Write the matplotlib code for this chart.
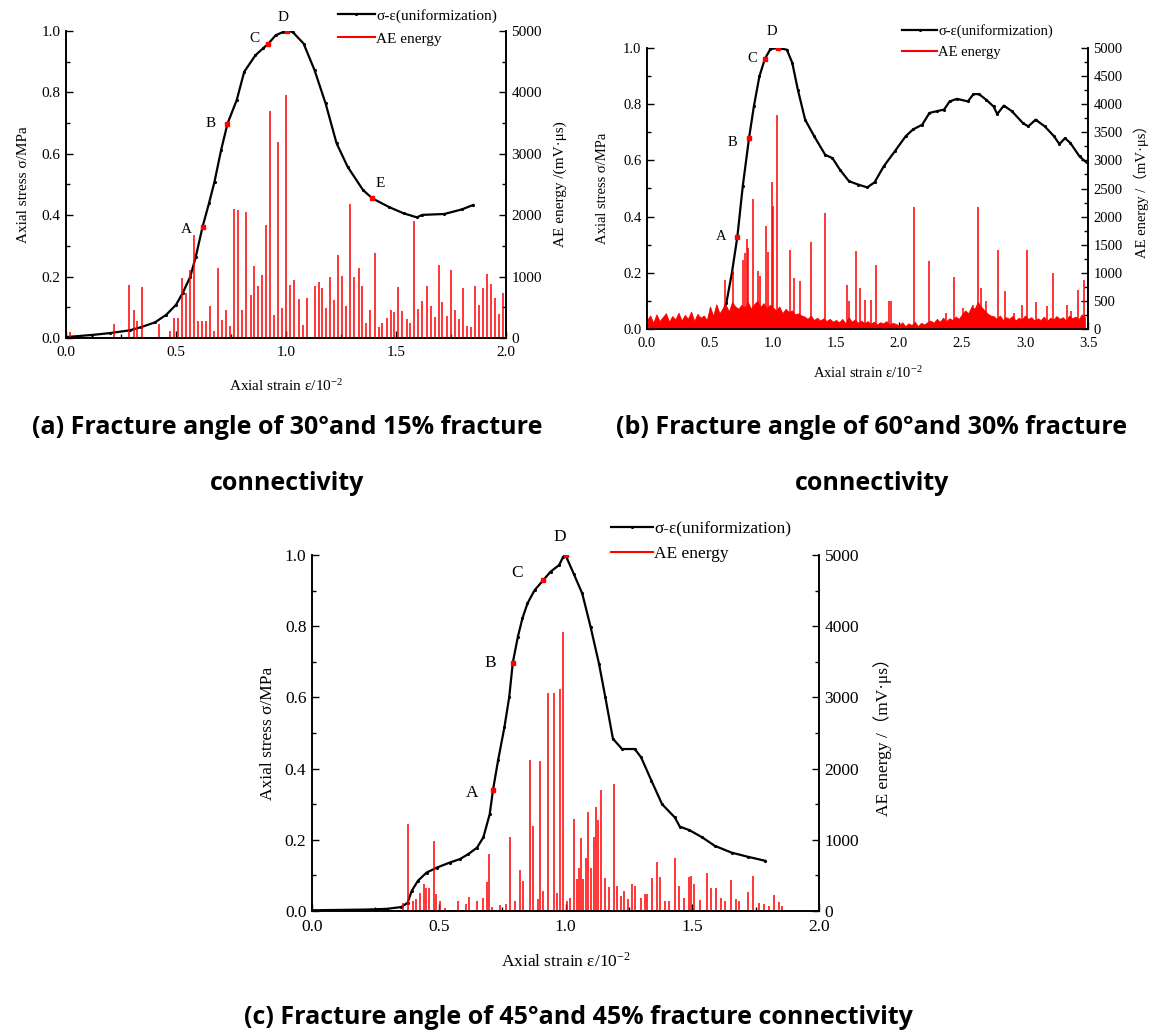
import matplotlib

matplotlib.use('Agg')
import matplotlib.pyplot as plt
from matplotlib.lines import Line2D
from matplotlib.ticker import MultipleLocator, FormatStrFormatter
import numpy as np

plt.rcParams['font.family'] = ['Liberation Serif', 'Noto Sans CJK SC']
plt.rcParams['mathtext.fontset'] = 'stix'

# ---- (a) 30 deg, 15 % ----
a_strain = [0.0, 0.12, 0.2, 0.29, 0.34, 0.405, 0.456, 0.5, 0.53, 0.565, 0.59, 0.621, 0.65,
            0.675, 0.705, 0.734, 0.776, 0.81, 0.861, 0.895, 0.92, 0.953, 0.987, 1.004, 1.03,
            1.08, 1.13, 1.18, 1.23, 1.28, 1.35, 1.392, 1.47, 1.535, 1.595, 1.62, 1.72, 1.8, 1.85]
a_stress = [0.003, 0.01, 0.016, 0.025, 0.035, 0.051, 0.076, 0.108, 0.146, 0.2, 0.265, 0.363, 0.439,
            0.509, 0.612, 0.698, 0.775, 0.867, 0.921, 0.943, 0.959, 0.986, 0.997, 1.0, 0.997,
            0.959, 0.872, 0.764, 0.634, 0.558, 0.482, 0.455, 0.426, 0.406, 0.393, 0.401, 0.404, 0.419, 0.433]
a_pt_x = [0.621, 0.734, 0.92, 1.004, 1.392]
a_pt_y = [0.363, 0.698, 0.959, 1.0, 0.455]
a_pt_lab = ["A", "B", "C", "D", "E"]
a_ae_x = [0.017, 0.216, 0.287, 0.307, 0.324, 0.344, 0.422, 0.473, 0.489, 0.510, 0.527, 0.545,
          0.562, 0.581, 0.599, 0.616, 0.636, 0.655, 0.672, 0.692, 0.709, 0.727, 0.746, 0.765,
          0.783, 0.802, 0.819, 0.839, 0.856, 0.873, 0.891, 0.908, 0.928, 0.945, 0.964, 0.982,
          0.999, 1.018, 1.036, 1.057, 1.075, 1.094, 1.131, 1.148, 1.165, 1.183, 1.202, 1.220,
          1.237, 1.254, 1.274, 1.293, 1.311, 1.330, 1.347, 1.365, 1.384, 1.403, 1.421, 1.438,
          1.457, 1.475, 1.492, 1.511, 1.529, 1.548, 1.565, 1.583, 1.602, 1.620, 1.639, 1.657,
          1.676, 1.695, 1.711, 1.730, 1.749, 1.767, 1.786, 1.804, 1.823, 1.840, 1.858, 1.877,
          1.894, 1.912, 1.931, 1.948, 1.966, 1.985]
a_ae = [100, 233, 866, 460, 270, 830, 233, 120, 325, 325, 975, 730,
        1110, 1680, 270, 270, 270, 515, 120, 1140, 300, 450, 200, 2097,
        2085, 450, 2060, 705, 1180, 840, 1030, 1836, 3695, 380, 3200, 487,
        3965, 866, 937, 634, 211, 650, 840, 904, 807, 487, 1000, 623,
        1354, 1010, 525, 2183, 990, 1140, 850, 243, 450, 1380, 180, 243,
        325, 450, 417, 830, 433, 310, 243, 1912, 470, 596, 850, 525,
        340, 1190, 590, 352, 1110, 460, 310, 812, 200, 180, 850, 540,
        812, 1050, 880, 650, 390, 740]

# ---- (b) 60 deg, 30 % ----
b_strain = [0.0, 0.2, 0.4, 0.572, 0.63, 0.674, 0.717, 0.76, 0.81, 0.848, 0.892, 0.935, 0.979,
            1.037, 1.11, 1.153, 1.197, 1.255, 1.327, 1.414, 1.472, 1.531, 1.603, 1.676, 1.748,
            1.806, 1.879, 1.966, 2.053, 2.111, 2.184, 2.242, 2.3, 2.358, 2.402, 2.46, 2.547,
            2.591, 2.634, 2.692, 2.75, 2.78, 2.832, 2.896, 2.983, 3.026, 3.084, 3.157, 3.23,
            3.273, 3.317, 3.36, 3.433, 3.5]
b_stress = [0.002, 0.006, 0.012, 0.024, 0.093, 0.2, 0.328, 0.508, 0.68, 0.792, 0.899, 0.961, 0.996,
            1.0, 0.994, 0.947, 0.852, 0.745, 0.686, 0.62, 0.608, 0.567, 0.526, 0.514, 0.504,
            0.522, 0.579, 0.632, 0.686, 0.71, 0.727, 0.769, 0.775, 0.781, 0.81, 0.819, 0.81,
            0.836, 0.836, 0.816, 0.792, 0.765, 0.795, 0.775, 0.733, 0.721, 0.745, 0.721, 0.686,
            0.658, 0.679, 0.662, 0.614, 0.588]
b_pt_x = [0.717, 0.81, 0.935, 1.037]
b_pt_y = [0.328, 0.68, 0.961, 1.0]
b_pt_lab = ["A", "B", "C", "D"]
b_ae_x = [0.616, 0.683, 0.761, 0.775, 0.790, 0.805, 0.839, 0.883, 0.897, 0.941, 0.964, 0.993,
          1.002, 1.028, 1.133, 1.168, 1.217, 1.298, 1.409, 1.589, 1.603, 1.661, 1.693, 1.728,
          1.778, 1.821, 1.923, 1.937, 2.120, 2.242, 2.373, 2.437, 2.509, 2.591, 2.626, 2.649,
          2.687, 2.785, 2.838, 2.910, 2.974, 3.012, 3.085, 3.172, 3.221, 3.331, 3.366, 3.424, 3.465]
b_ae = [866, 1026, 1234, 1352, 1607, 1441, 2319, 1026, 937, 1839, 1370, 2610,
        2195, 3808, 1412, 907, 860, 1542, 2064, 789, 492, 1382, 724, 522,
        522, 1145, 492, 504, 2171, 1204, 285, 925, 374, 433, 2171, 724,
        492, 1412, 670, 285, 433, 1400, 474, 403, 996, 433, 314, 700, 878]
# background AE noise in 0.025 strain bins starting at 0
b_noise = [160, 240, 110, 260, 140, 210, 280, 130, 230, 170, 290, 150, 250, 180, 310, 140, 270, 200, 240, 160,
           400, 230, 440, 280, 360, 430, 310, 480, 400, 360,
           430, 380, 480, 360, 440, 500, 390, 460, 360, 430, 380, 330, 400, 280, 360, 300, 330, 260, 280, 240,
           220, 180, 240, 160, 200, 150, 190, 140, 180, 130,
           160, 120, 180, 100, 210, 130, 170, 110, 150, 100, 140, 90, 130, 80, 120, 100, 140, 70, 110, 90,
           60, 120, 50, 100, 70, 130, 50, 110, 80, 120,
           150, 110, 180, 130, 200, 140, 190, 160, 220, 180,
           260, 330, 280, 400, 360, 480, 400, 340, 280, 240,
           230, 180, 240, 160, 210, 180, 230, 150, 200, 170, 240, 180, 210, 150, 190,
           160, 220, 140, 200, 170, 230, 180, 210, 150, 240, 190, 220, 170, 260, 210]

# ---- (c) 45 deg, 45 % ----
c_strain = [0.0, 0.21, 0.294, 0.352, 0.377, 0.393, 0.418, 0.452, 0.493, 0.543, 0.584, 0.617,
            0.651, 0.676, 0.701, 0.714, 0.734, 0.759, 0.778, 0.792, 0.812, 0.83, 0.85, 0.878,
            0.913, 0.941, 0.975, 0.991, 1.0, 1.032, 1.066, 1.099, 1.132, 1.157, 1.187, 1.223,
            1.273, 1.298, 1.339, 1.381, 1.431, 1.451, 1.489, 1.539, 1.589, 1.655, 1.721, 1.788]
c_stress = [0.002, 0.004, 0.006, 0.011, 0.023, 0.056, 0.085, 0.108, 0.122, 0.136, 0.146, 0.16,
            0.178, 0.207, 0.272, 0.34, 0.423, 0.516, 0.601, 0.697, 0.77, 0.822, 0.864, 0.901,
            0.93, 0.953, 0.972, 0.995, 1.0, 0.948, 0.892, 0.798, 0.695, 0.601, 0.484, 0.455,
            0.455, 0.432, 0.366, 0.3, 0.263, 0.237, 0.227, 0.207, 0.183, 0.164, 0.152, 0.141]
c_pt_x = [0.714, 0.792, 0.913, 1.0]
c_pt_y = [0.34, 0.697, 0.93, 1.0]
c_pt_lab = ["A", "B", "C", "D"]
c_ae_x = [0.360, 0.380, 0.397, 0.410, 0.427, 0.440, 0.451, 0.460, 0.480, 0.490, 0.505, 0.526,
          0.576, 0.609, 0.621, 0.651, 0.676, 0.692, 0.700, 0.709, 0.742, 0.767, 0.783, 0.800,
          0.820, 0.833, 0.858, 0.871, 0.891, 0.901, 0.911, 0.929, 0.953, 0.966, 0.979, 0.991,
          1.004, 1.016, 1.032, 1.044, 1.052, 1.062, 1.071, 1.079, 1.090, 1.102, 1.112, 1.120,
          1.130, 1.140, 1.154, 1.170, 1.190, 1.203, 1.220, 1.232, 1.248, 1.261, 1.276, 1.298,
          1.315, 1.323, 1.343, 1.359, 1.373, 1.393, 1.409, 1.431, 1.447, 1.469, 1.489, 1.497,
          1.505, 1.530, 1.560, 1.575, 1.592, 1.613, 1.630, 1.651, 1.671, 1.685, 1.721, 1.741,
          1.763, 1.783, 1.804, 1.824, 1.841, 1.854]
c_ae = [117, 1221, 141, 164, 258, 385, 319, 319, 977, 235, 141, 38,
        141, 94, 197, 141, 188, 413, 798, 56, 85, 94, 1042, 141,
        573, 423, 2122, 1197, 164, 2113, 282, 3061, 3061, 258, 3117, 3920,
        141, 188, 1291, 446, 610, 1023, 446, 751, 1385, 610, 1042, 1465,
        1277, 1700, 469, 338, 1784, 352, 211, 282, 164, 376, 352, 178,
        235, 235, 469, 695, 479, 141, 141, 751, 352, 188, 479, 493,
        376, 150, 540, 329, 319, 188, 141, 432, 164, 141, 272, 493,
        117, 103, 70, 225, 131, 70]

W, H = 1154, 1035


def rect(l, t, r, b):
    return [l / W, 1 - b / H, (r - l) / W, (b - t) / H]


def panel(box, strain, stress, px, py, plab, offs, ae_x, ae, xmax, emaj, fs,
          rlabel, leg_xy, leg_sp, xpad, ypad, rpad, noise=None):
    ax = fig.add_axes(rect(*box))
    ax2 = ax.twinx()
    ax.plot(strain, stress, color='black', lw=1.6, marker='.', ms=2.5, zorder=2)
    ax.plot(px, py, ls='none', marker='s', ms=3, color='red', zorder=3)
    for x, y, t, o in zip(px, py, plab, offs):
        ax.annotate(t, (x, y), xytext=o, textcoords='offset points', ha='center',
                    va='center', fontsize=fs)
    if noise is not None:
        nx = np.arange(len(noise)) * 0.025
        ax2.fill_between(nx, 0, noise, color='red', lw=0.6)
    ax2.vlines(ae_x, 0, ae, color='red', lw=1.1)
    ax.set_xlim(0, xmax)
    ax.set_ylim(0, 1.0)
    ax2.set_ylim(0, 5000)
    ax.xaxis.set_major_locator(MultipleLocator(0.5))
    ax.xaxis.set_minor_locator(MultipleLocator(0.25))
    ax.xaxis.set_major_formatter(FormatStrFormatter('%.1f'))
    ax.yaxis.set_major_locator(MultipleLocator(0.2))
    ax.yaxis.set_minor_locator(MultipleLocator(0.1))
    ax.yaxis.set_major_formatter(FormatStrFormatter('%.1f'))
    ax2.yaxis.set_major_locator(MultipleLocator(emaj))
    ax2.yaxis.set_minor_locator(MultipleLocator(emaj / 2))
    for a in (ax, ax2):
        a.spines['top'].set_visible(False)
        for s in a.spines.values():
            s.set_linewidth(1.2)
        a.tick_params(which='both', direction='in', labelsize=fs, width=1.0, pad=4)
        a.tick_params(which='major', length=5)
        a.tick_params(which='minor', length=3)
    ax.tick_params(axis='x', pad=6)
    ax.tick_params(right=False, top=False)
    ax.set_xlabel("Axial strain ε/10$^{\\mathregular{-2}}$", fontsize=fs, labelpad=xpad)
    ax.set_ylabel("Axial stress σ/MPa", fontsize=fs, labelpad=ypad)
    ax2.set_ylabel(rlabel, fontsize=fs, labelpad=rpad)
    hs = [Line2D([], [], color='black', lw=1.6, marker='.', ms=2.5),
          Line2D([], [], color='red', lw=1.5)]
    ax2.legend(hs, ["σ-ε(uniformization)", "AE energy"], loc='upper left',
               bbox_to_anchor=(leg_xy[0] / W, 1 - leg_xy[1] / H),
               bbox_transform=fig.transFigure, frameon=False, fontsize=fs,
               borderpad=0, borderaxespad=0, handlelength=2.4, handletextpad=0.1,
               labelspacing=leg_sp, numpoints=1)
    return ax


fig = plt.figure(figsize=(W / 100, H / 100), dpi=100)

panel((66, 31, 506, 338), a_strain, a_stress, a_pt_x, a_pt_y, a_pt_lab,
      [(-12, -2), (-12, 0), (-10, 4), (-3, 10), (6, 11)],
      a_ae_x, a_ae, 2.0, 1000, 11, "AE energy /(mV·μs)",
      (338, 9), 0.6, 13, 8, 8)

panel((647, 48, 1088, 329), b_strain, b_stress, b_pt_x, b_pt_y, b_pt_lab,
      [(-12, 0), (-12, -3), (-9, 0), (-4, 12)],
      b_ae_x, b_ae, 3.5, 500, 10.5, "AE energy /（mV·μs）",
      (902, 24), 0.55, 10, 10, 8, noise=b_noise)

panel((312, 555, 819, 911), c_strain, c_stress, c_pt_x, c_pt_y, c_pt_lab,
      [(-15, -2), (-16, 0), (-19, 5), (-4, 13)],
      c_ae_x, c_ae, 2.0, 1000, 12.5, "AE energy /（mV·μs）",
      (611, 521), 0.5, 12, 6, 10)

tkw = dict(ha='center', va='center', fontsize=18, fontweight='bold',
           family=['Open Sans', 'DejaVu Sans'])
fig.text(287 / W, 1 - 428 / H, "(a) Fracture angle of 30°and 15% fracture", **tkw)
fig.text(287 / W, 1 - 483 / H, "connectivity", **tkw)
fig.text(872 / W, 1 - 428 / H, "(b) Fracture angle of 60°and 30% fracture", **tkw)
fig.text(872 / W, 1 - 483 / H, "connectivity", **tkw)
fig.text(578 / W, 1 - 1018 / H, "(c) Fracture angle of 45°and 45% fracture connectivity", **tkw)

fig.savefig("out.png", dpi=100)
